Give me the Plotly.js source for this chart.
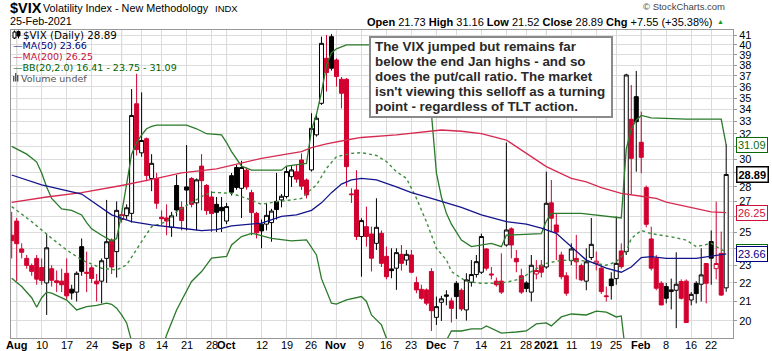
<!DOCTYPE html>
<html><head><meta charset="utf-8">
<script src="https://cdn.plot.ly/plotly-3.0.1.min.js"></script>
<style>html,body{margin:0;padding:0;background:#fff;}#chart{width:772px;height:351px;}</style>
</head><body><div id="chart"></div>
<script>
const dates = ['2020-07-31',
'2020-08-03','2020-08-04','2020-08-05','2020-08-06','2020-08-07',
'2020-08-10','2020-08-11','2020-08-12','2020-08-13','2020-08-14',
'2020-08-17','2020-08-18','2020-08-19','2020-08-20','2020-08-21',
'2020-08-24','2020-08-25','2020-08-26','2020-08-27','2020-08-28',
'2020-08-31','2020-09-01','2020-09-02','2020-09-03','2020-09-04',
'2020-09-08','2020-09-09','2020-09-10','2020-09-11',
'2020-09-14','2020-09-15','2020-09-16','2020-09-17','2020-09-18',
'2020-09-21','2020-09-22','2020-09-23','2020-09-24','2020-09-25',
'2020-09-28','2020-09-29','2020-09-30','2020-10-01','2020-10-02',
'2020-10-05','2020-10-06','2020-10-07','2020-10-08','2020-10-09',
'2020-10-12','2020-10-13','2020-10-14','2020-10-15','2020-10-16',
'2020-10-19','2020-10-20','2020-10-21','2020-10-22','2020-10-23',
'2020-10-26','2020-10-27','2020-10-28','2020-10-29','2020-10-30',
'2020-11-02','2020-11-03','2020-11-04','2020-11-05','2020-11-06',
'2020-11-09','2020-11-10','2020-11-11','2020-11-12','2020-11-13',
'2020-11-16','2020-11-17','2020-11-18','2020-11-19','2020-11-20',
'2020-11-23','2020-11-24','2020-11-25','2020-11-27',
'2020-11-30','2020-12-01','2020-12-02','2020-12-03','2020-12-04',
'2020-12-07','2020-12-08','2020-12-09','2020-12-10','2020-12-11',
'2020-12-14','2020-12-15','2020-12-16','2020-12-17','2020-12-18',
'2020-12-21','2020-12-22','2020-12-23','2020-12-24',
'2020-12-28','2020-12-29','2020-12-30','2020-12-31',
'2021-01-04','2021-01-05','2021-01-06','2021-01-07','2021-01-08',
'2021-01-11','2021-01-12','2021-01-13','2021-01-14','2021-01-15',
'2021-01-19','2021-01-20','2021-01-21','2021-01-22',
'2021-01-25','2021-01-26','2021-01-27','2021-01-28','2021-01-29',
'2021-02-01','2021-02-02','2021-02-03','2021-02-04','2021-02-05',
'2021-02-08','2021-02-09','2021-02-10','2021-02-11','2021-02-12',
'2021-02-16','2021-02-17','2021-02-18','2021-02-19',
'2021-02-22','2021-02-23','2021-02-24','2021-02-25'];

const prevClose = 24.76;

const open = [24.8,
25.7,23.96,23.4,22.98,23.4, 22.87,22.0,22.8,22.12,22.1, 22.54,21.66,21.5,24.1,22.6, 22.85,22.1,22.1,23.4,24.5,
23.8,25.8,26.05,26.2,34.5, 30.5,31.6,28.6,28.6, 25.95,25.9,25.3,28.1,26.6, 28.0,28.6,26.9,29.5,28.1,
27.3,26.8,26.6,25.7,28.8, 29.4,27.9,29.2,27.6,26.2, 25.5,25.5,25.6,27.0,27.1, 27.33,28.73,29.09,29.96,28.49,
29.22,31.91,34.54,38.67,40.83, 38.51,36.69,36.69,27.45,27.79, 24.72,25.34,24.88,24.3,24.92, 23.52,22.79,22.83,23.64,23.3,
23.6,22.02,21.65,21.62, 22.64,20.18,20.96,21.35,21.03, 21.98,21.6,20.56,22.04,22.47, 22.6,23.96,22.5,22.1,22.1,
24.2,25.2,23.4,22.4, 22.0,21.5,22.5,23.0, 22.9,26.9,25.45,23.6,22.4, 23.27,23.4,22.98,22.1,23.45,
23.1,22.83,21.3,22.22, 22.24,23.84,23.8,33.18,35.12, 31.32,27.95,24.57,23.41,21.98, 21.8,21.53,21.6,22.08,22.1,
21.08,21.98,21.93,23.1, 24.41,22.8,23.7,21.73];

const high = [26.3,
25.9,24.3,23.6,23.1,23.6, 23.4,24.9,23.0,22.7,22.8, 23.4,21.9,22.65,24.6,23.8, 23.0,22.5,23.4,27.1,24.6,
27.0,26.3,26.8,35.8,37.2, 35.5,31.7,30.4,29.0, 26.4,26.8,26.3,28.85,27.0, 31.1,28.7,28.6,30.4,28.2,
27.7,27.3,27.3,26.9,29.0, 29.6,29.9,29.4,27.8,26.3, 25.8,26.9,26.5,29.0,27.5, 29.46,29.5,29.6,30.46,28.6,
33.69,33.69,40.83,41.0,41.1, 38.67,36.9,36.8,27.9,29.2, 25.88,26.65,25.34,27.21,25.1, 24.1,24.0,24.0,24.2,23.9,
23.9,22.35,21.9,21.7, 22.83,21.26,21.3,21.6,21.2, 22.1,21.7,22.54,23.3,23.6, 24.9,24.0,22.9,22.3,23.7,
31.3,25.3,23.9,22.8, 22.1,23.6,23.3,23.3, 29.09,28.49,26.2,23.8,22.6, 24.3,24.82,23.1,24.0,25.9,
23.8,23.0,21.8,22.6, 26.0,24.3,37.2,36.16,37.46, 33.83,28.1,25.34,23.6,22.1, 22.0,22.24,23.76,22.2,22.2,
21.5,22.1,24.0,23.1, 25.1,26.98,25.03,31.16];

const low = [23.4,
22.1,23.4,22.8,22.4,21.9, 21.9,20.3,21.8,21.5,21.5, 21.1,21.1,21.0,22.4,21.5, 22.0,21.0,20.9,22.0,22.5,
22.3,25.6,25.8,25.6,30.3, 30.2,28.4,27.7,26.5, 25.4,24.8,24.7,26.0,25.1, 25.1,26.6,25.1,26.4,26.1,
25.0,25.0,25.0,25.5,27.4, 27.8,25.9,27.8,24.8,24.6, 24.0,25.1,24.4,25.8,26.6, 27.2,28.0,28.3,27.79,27.2,
29.1,31.77,34.4,35.57,37.5, 36.02,34.1,28.02,26.9,24.5, 22.35,24.1,22.64,23.9,22.9, 22.2,22.26,21.62,22.7,23.0,
22.54,21.44,21.1,20.8, 19.5,19.8,20.0,20.8,19.92, 20.1,20.5,20.02,21.8,22.3, 22.5,22.7,22.2,21.8,21.4,
24.1,23.4,22.6,21.4, 21.5,21.0,22.2,22.3, 22.8,25.0,23.3,22.2,21.3, 23.0,22.2,22.1,21.6,23.3,
22.7,21.4,21.0,21.1, 21.9,22.8,23.6,27.44,29.09, 28.98,25.3,22.7,21.6,20.8, 20.9,20.59,19.64,21.1,19.9,
20.8,20.9,21.0,20.9, 21.9,22.2,21.3,21.52];

const close = [24.46,
24.28,23.76,22.99,22.65,22.21, 22.13,24.03,22.15,22.02,21.9, 21.3,21.45,22.54,22.65,22.54, 22.25,21.95,23.26,24.4,22.9,
26.4,26.12,26.57,33.5,30.75, 31.46,28.81,29.71,26.87, 25.85,25.7,26.04,26.42,25.73, 27.78,26.8,28.5,28.44,26.38,
26.19,26.27,26.37,26.65,27.63, 27.96,29.4,28.0,26.25,24.95, 25.07,26.07,26.35,26.45,27.35, 29.1,29.22,28.55,28.05,27.44,
32.44,33.27,40.15,37.31,37.72, 36.94,35.42,29.46,27.5,24.72, 25.73,24.72,23.41,25.3,23.11, 22.35,22.69,23.74,23.11,23.64,
22.6,21.62,21.17,20.91, 20.52,20.73,21.14,21.28,20.64, 21.26,20.61,22.17,22.47,23.21, 24.72,22.83,22.45,21.9,21.5,
25.13,24.2,23.2,21.5, 21.7,23.0,22.7,22.6, 26.87,25.88,24.99,22.35,21.44, 23.96,23.2,22.17,23.2,24.24,
23.24,21.53,21.26,21.85, 23.11,22.92,37.09,30.08,32.98, 30.16,25.49,22.83,21.71,20.82, 21.17,21.62,21.93,21.17,19.92,
21.38,21.42,22.45,21.98, 23.41,23.1,21.34,28.89];

// indicator lines (index into dates, value)
const ma50Idx = [0,6,14,17,20,24,28,34,38,41,44,50,54,57,60,62,64,66,68,70,73,77,80,84,87,90,94,99,103,106,109,112,115,119,122,124,126,128,131,137,140,143];
const ma50 = [28.85,28.14,27.5,26.8,26.1,25.66,25.45,25.24,25.09,25.15,25.39,25.56,26.0,26.1,26.4,26.9,27.6,28.2,28.5,28.6,28.5,28.0,27.6,27.2,26.9,26.6,26.1,25.66,25.5,25.24,24.92,24.1,23.3,22.83,22.6,22.9,23.45,23.5,23.4,23.4,23.55,23.66];

const ma200Idx = [0,7,14,22,29,34,41,46,50,55,58,60,63,67,70,77,83,86,90,94,99,103,107,112,115,118,122,126,129,131,137,140,143];
const ma200 = [26.94,27.3,27.6,28.1,28.6,29.0,29.3,29.7,30.08,30.4,30.6,30.9,31.2,31.5,31.7,31.9,32.2,32.3,32.2,32.0,31.5,30.46,29.46,28.6,28.35,27.95,27.55,27.35,27.2,26.95,26.5,26.3,26.25];

const bbUpIdx = [0,2,3,4,5,6,7,8,10,12,14,15,16,18,20,21,22,23,24,25,26,27,28,29,35,37,39,42,43,44,45,46,48,54,55,59,60,61,62,63,64,65,67,71,80,82,83,84,85,86,87,88,90,92,96,98,99,106,107,108,114,119,122,123,124,125,126,128,135,142,143];
const bbUp = [31.0,30.6,30.4,30.1,29.8,29.0,28.0,27.2,26.5,26.4,26.1,25.6,25.2,24.8,24.45,24.6,26.2,28.2,30.4,31.3,31.9,32.4,32.6,32.7,32.7,32.4,32.0,31.9,31.3,30.6,30.0,29.5,29.2,29.2,29.5,29.7,32.3,33.6,35.5,38.0,39.2,39.6,40.0,40.0,40.0,37.5,35.5,33.7,29.0,27.3,26.2,25.5,24.5,24.1,24.3,24.1,24.8,24.9,25.7,26.2,26.2,26.0,25.9,30.8,32.4,33.1,33.5,33.3,33.2,33.2,31.09];

const bbLoIdx = [0,2,4,5,6,7,8,10,11,13,15,17,19,20,21,22,23,24,26,28,30,31,33,36,38,40,43,44,46,48,49,52,56,59,61,62,64,65,67,70,71,72,74,75,78,82,86,88,90,92,94,95,98,101,103,105,107,108,110,112,115,117,119,121,122,123,126,130,135,140,143];
const bbLo = [22.26,21.8,21.2,20.7,21.2,21.5,21.44,21.2,21.07,20.56,20.73,20.8,20.91,20.85,20.65,20.3,19.9,19.0,18.0,17.5,18.5,19.31,20.56,22.08,22.64,23.41,23.51,24.2,24.72,24.92,24.86,24.61,24.45,24.51,23.6,22.24,20.91,20.86,21.08,21.26,21.0,20.3,19.8,19.15,18.0,17.5,18.6,19.5,19.5,19.6,19.6,19.75,19.4,19.45,19.5,19.85,19.9,19.75,20.2,20.35,20.3,20.5,20.45,20.2,20.25,18.2,17.4,16.9,16.6,16.6,16.41];

const bbMidIdx = [0,4,8,11,14,18,21,23,26,28,31,33,38,40,44,47,50,53,56,58,59,61,63,65,68,70,73,75,77,79,81,83,85,87,88,91,94,97,99,102,104,107,110,112,115,117,119,121,123,124,126,128,132,135,137,140,143];
const bbMid = [26.65,25.66,24.61,23.9,23.31,22.83,22.73,23.02,24.41,25.34,25.66,26.32,27.33,27.62,27.55,27.21,26.8,26.98,27.1,27.2,27.55,28.14,29.34,30.21,30.46,30.51,30.3,29.84,29.09,28.61,27.21,25.66,24.0,23.31,22.64,22.08,21.98,21.98,22.04,22.24,22.64,23.11,23.29,23.29,23.25,23.1,23.0,23.2,23.8,24.6,25.1,24.9,24.7,24.5,24.1,24.3,23.75];

const tickDates = ['2020-08-03','2020-08-10','2020-08-17','2020-08-24','2020-09-01','2020-09-08','2020-09-14','2020-09-21','2020-09-28','2020-10-01','2020-10-12','2020-10-19','2020-10-26','2020-11-02','2020-11-09','2020-11-16','2020-11-23','2020-12-01','2020-12-07','2020-12-14','2020-12-21','2020-12-28','2021-01-04','2021-01-11','2021-01-19','2021-01-25','2021-02-01','2021-02-08','2021-02-16','2021-02-22'];
const tickLabels = ['<b>Aug</b>','10','17','24','<b>Sep</b>','8','14','21','28','<b>Oct</b>','12','19','26','<b>Nov</b>','9','16','23','<b>Dec</b>','7','14','21','28','<b>2021</b>','11','19','25','<b>Feb</b>','8','16','22'];
const monthDates = ['2020-08-03','2020-09-01','2020-10-01','2020-11-02','2020-12-01','2021-01-04','2021-02-01'];
const yTicks = [20,21,22,23,24,25,26,27,28,29,30,31,32,33,34,35,36,37,38,39,40,41];

const noteLines = ['The VIX jumped but remains far','below the end Jan highs - and so','does the put/call ratio. The market',"isn't viewing this selloff as a turning",'point - regardless of TLT action.'];

const RED = '#d2002f', NAVY = '#14148c', CRIMSON = '#d62a50', GREEN = '#2a7a2a';

function candleSet(isUp) {
  const t = {x:[],o:[],h:[],l:[],c:[]};
  dates.forEach((d,i) => {
    const prev = i === 0 ? prevClose : close[i-1];
    if ((close[i] >= prev) === isUp) { t.x.push(d); t.o.push(open[i]); t.h.push(high[i]); t.l.push(low[i]); t.c.push(close[i]); }
  });
  const col = isUp ? '#000000' : RED;
  return {type:'candlestick', x:t.x, open:t.o, high:t.h, low:t.l, close:t.c,
    increasing:{line:{color:col,width:1}, fillcolor:'#ffffff'},
    decreasing:{line:{color:col,width:1}, fillcolor:col},
    whiskerwidth:0, hoverinfo:'skip', showlegend:false};
}
function lineTrace(idx, vals, color, dash, width) {
  return {type:'scatter', mode:'lines', x: idx.map(i => dates[i]), y: vals,
    line:{color:color, width:width, dash:dash}, hoverinfo:'skip', showlegend:false};
}

const last = a => a[a.length-1];
const traces = [
  candleSet(true), candleSet(false),
  lineTrace(bbUpIdx, bbUp, GREEN, 'solid', 1.3),
  lineTrace(bbLoIdx, bbLo, GREEN, 'solid', 1.3),
  lineTrace(bbMidIdx, bbMid, '#3f8f3f', 'dot', 1.4),
  lineTrace(ma200Idx, ma200, CRIMSON, 'solid', 1.3),
  lineTrace(ma50Idx, ma50, NAVY, 'solid', 1.3)
];

const PL = 11, PT = 30, PW = 722, PH = 308;
const px = x => (x - PL) / PW;
const py = y => (PT + PH - y) / PH;
const SANS = 'Liberation Sans, Arial, sans-serif';
const VERD = 'DejaVu Sans, Verdana, sans-serif';

const shapes = monthDates.map(d => ({type:'line', xref:'x', yref:'paper', x0:d, x1:d, y0:0, y1:1,
  line:{color:'#b0b0b0', width:1}, layer:'between'}));
// note box
shapes.push({type:'rect', xref:'paper', yref:'paper', x0:px(370), x1:px(612), y0:py(117), y1:py(37),
  line:{color:'#8a8a8a', width:2}, fillcolor:'#ffffff', layer:'above'});
// legend icons
shapes.push({type:'line', xref:'paper', yref:'paper', x0:px(14.5), x1:px(14.5), y0:py(39), y1:py(30.5), line:{color:'#000',width:1}, layer:'above'});
shapes.push({type:'rect', xref:'paper', yref:'paper', x0:px(13), x1:px(16), y0:py(38), y1:py(32), line:{color:'#000',width:1}, fillcolor:'#fff', layer:'above'});
shapes.push({type:'line', xref:'paper', yref:'paper', x0:px(18.5), x1:px(18.5), y0:py(38.5), y1:py(30.5), line:{color:'#000',width:1}, layer:'above'});
shapes.push({type:'rect', xref:'paper', yref:'paper', x0:px(17), x1:px(20), y0:py(36), y1:py(31.5), line:{color:'#000',width:1}, fillcolor:'#000', layer:'above'});
[[13,76],[15,73],[17,75]].forEach(b => shapes.push({type:'rect', xref:'paper', yref:'paper', x0:px(b[0]), x1:px(b[0]+1.4), y0:py(81.5), y1:py(b[1]), line:{width:0}, fillcolor:'#555', layer:'above'}));

const ann = [];
function txt(t, x, y, size, opts) {
  ann.push(Object.assign({text:t, xref:'paper', yref:'paper', x:px(x), y:py(y), xanchor:'left', yanchor:'middle',
    showarrow:false, font:{family:SANS, size:size, color:'#000'}, borderpad:0}, opts || {}));
}
// header
txt('<b>$VIX</b>', 9, 7.5, 14.5);
txt('Volatility Index - New Methodology', 42, 7.8, 10.8);
txt('INDX', 214, 8.3, 9.5);
txt('25-Feb-2021', 9, 21.5, 10.8);
txt('\u00a9 StockCharts.com', 726, 6.8, 9.5, {xanchor:'right', font:{family:SANS, size:9.5, color:'#444'}});
txt('<b>Open</b> ' + open[open.length-1].toFixed(2) + ' <b>High</b> ' + last(high).toFixed(2) + ' <b>Low</b> ' + last(low).toFixed(2) +
    ' <b>Close</b> ' + last(close).toFixed(2) + ' <b>Chg</b> +' + (last(close)-close[close.length-2]).toFixed(2) +
    ' (+' + ((last(close)/close[close.length-2]-1)*100).toFixed(2) + '%)', 714, 21.8, 11, {xanchor:'right'});
txt('\u25b2', 716, 21.5, 7, {font:{family:SANS, size:7, color:'#1a9a1a'}});
// in-plot legend
txt('$VIX (Daily) ' + last(close).toFixed(2), 22, 34.5, 10.3, {font:{family:VERD, size:10.3, color:'#000'}});
txt('\u2014MA(50) ' + last(ma50).toFixed(2), 12, 45.5, 9.5, {font:{family:VERD, size:9.5, color:'#00007a'}});
txt('\u2014MA(200) ' + last(ma200).toFixed(2), 12, 56.5, 9.5, {font:{family:VERD, size:9.5, color:'#c8103a'}});
txt('\u2014BB(20,2.0) ' + last(bbLo).toFixed(2) + ' - ' + last(bbMid).toFixed(2) + ' - ' + last(bbUp).toFixed(2), 12, 67.5, 9.5, {font:{family:VERD, size:9.5, color:'#006400'}});
txt('Volume undef', 19.5, 78, 9.5, {font:{family:VERD, size:9.5, color:'#555'}});
// note text
noteLines.forEach((t, i) => txt('<b>' + t + '</b>', 374, 46.7 + 15 * i, 13.4, {font:{family:SANS, size:13.4, color:'#2a2a2a'}}));
// right-edge value tags
const tagVals = [];
function tag(v, color, bold, bw) {
  tagVals.push(v);
  ann.push({text: bold ? '<b>' + v.toFixed(2) + '</b>' : v.toFixed(2), xref:'paper', yref:'y', x:1, y:Math.log10(v),
    xanchor:'left', yanchor:'middle', xshift:3, showarrow:false, bgcolor:'#ffffff', bordercolor:color, borderwidth:bw,
    borderpad:1, font:{family:SANS, size:11, color: bold ? '#000' : color}});
}
tag(last(bbUp), '#0a6a0a', false, 1);
tag(last(close), '#000000', true, 1.5);
tag(last(ma200), '#d0103a', false, 1);
tag(last(bbMid), '#0a6a0a', false, 1);
tag(last(ma50), '#000080', false, 1);
// axis numbers hidden where a value tag sits over them (as in the original)
const yTickText = yTicks.map(t => tagVals.some(v => Math.abs(Math.log(t / v)) * 398.4 < 8) ? '' : String(t));
// x-axis labels, placed under each tick date
tickDates.forEach((d, i) => ann.push({text: tickLabels[i], xref:'x', yref:'paper', x:d, y:0, yanchor:'middle', xanchor:'center',
  yshift:-7, showarrow:false, borderpad:0, font:{family:SANS, size:11, color:'#000'}}));

const layout = {
  width:772, height:351, margin:{l:PL, r:772-PL-PW, t:PT, b:351-PT-PH},
  paper_bgcolor:'#ffffff', plot_bgcolor:'#ffffff', showlegend:false,
  boxgap:0.2, boxgroupgap:0,
  xaxis:{type:'category', categoryorder:'array', categoryarray:dates, range:[-0.14,144.36],
    tickmode:'array', tickvals:tickDates, ticktext:tickLabels, showticklabels:false, showgrid:true, gridcolor:'#dcdcdc', gridwidth:1,
    ticks:'', showline:true, linecolor:'#999', mirror:true,
    rangeslider:{visible:false}, fixedrange:true, zeroline:false},
  yaxis:{type:'log', range:[Math.log10(19.16), Math.log10(41.52)], side:'right', tickmode:'array',
    tickvals:yTicks, ticktext:yTickText, showgrid:true, gridcolor:'#dcdcdc', gridwidth:1,
    ticks:'outside', ticklen:3, tickcolor:'#999', tickfont:{family:SANS, size:11, color:'#000'},
    showline:true, linecolor:'#999', mirror:true, zeroline:false, fixedrange:true},
  shapes:shapes, annotations:ann
};
Plotly.newPlot('chart', traces, layout, {staticPlot:true, displayModeBar:false});
</script></body></html>
